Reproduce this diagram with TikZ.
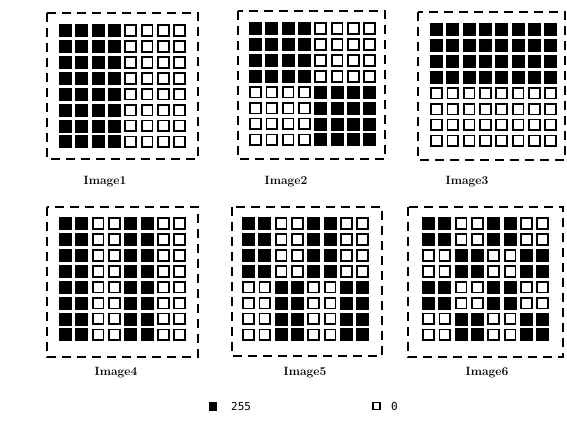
\documentclass[tikz,border=0pt]{standalone}
\usepackage{fontspec}
\newfontfamily\legendfont{DejaVu Sans Mono}
\tikzset{
  cell1/.style={draw=black,fill=black,line width=0.8pt,minimum size=12pt,inner sep=0pt},
  cell0/.style={draw=black,fill=white,line width=1.8pt,minimum size=10.8pt,inner sep=0pt},
  framebox/.style={draw=black,line width=1.6pt,dash pattern=on 9pt off 6pt},
  imglabel/.style={font=\fontsize{12}{14}\selectfont\bfseries,inner sep=0pt},
  legtext/.style={font=\legendfont\fontsize{11}{13}\selectfont,inner sep=0pt,anchor=west}
}
\newcommand\mygrid[4]{%
  \foreach \rowlist [count=\r] in {#4} {
    \foreach \v [count=\c] in \rowlist {
      \node[cell\v] (#1-\r-\c) at ({#2+6.5+(\c-1)*16.3},{#3+6.5+(\r-1)*15.9}) {};
    }
  }
}
\begin{document}
\begin{tikzpicture}[x=1pt,y=-1pt]
\useasboundingbox (0,0) rectangle (567,420);
% frames
\draw[framebox] (47,13) rectangle (198,159);
\draw[framebox] (238,11) rectangle (385,159);
\draw[framebox] (418,12) rectangle (565,160);
\draw[framebox] (47,207) rectangle (198,357);
\draw[framebox] (232,207) rectangle (382,356);
\draw[framebox] (408,207) rectangle (563,357);
% grids
\mygrid{gA}{59}{24}{{1,1,1,1,0,0,0,0},{1,1,1,1,0,0,0,0},{1,1,1,1,0,0,0,0},{1,1,1,1,0,0,0,0},{1,1,1,1,0,0,0,0},{1,1,1,1,0,0,0,0},{1,1,1,1,0,0,0,0},{1,1,1,1,0,0,0,0}}
\mygrid{gB}{249}{22}{{1,1,1,1,0,0,0,0},{1,1,1,1,0,0,0,0},{1,1,1,1,0,0,0,0},{1,1,1,1,0,0,0,0},{0,0,0,0,1,1,1,1},{0,0,0,0,1,1,1,1},{0,0,0,0,1,1,1,1},{0,0,0,0,1,1,1,1}}
\mygrid{gC}{430}{23}{{1,1,1,1,1,1,1,1},{1,1,1,1,1,1,1,1},{1,1,1,1,1,1,1,1},{1,1,1,1,1,1,1,1},{0,0,0,0,0,0,0,0},{0,0,0,0,0,0,0,0},{0,0,0,0,0,0,0,0},{0,0,0,0,0,0,0,0}}
\mygrid{gD}{59}{217}{{1,1,0,0,1,1,0,0},{1,1,0,0,1,1,0,0},{1,1,0,0,1,1,0,0},{1,1,0,0,1,1,0,0},{1,1,0,0,1,1,0,0},{1,1,0,0,1,1,0,0},{1,1,0,0,1,1,0,0},{1,1,0,0,1,1,0,0}}
\mygrid{gE}{242}{217}{{1,1,0,0,1,1,0,0},{1,1,0,0,1,1,0,0},{1,1,0,0,1,1,0,0},{1,1,0,0,1,1,0,0},{0,0,1,1,0,0,1,1},{0,0,1,1,0,0,1,1},{0,0,1,1,0,0,1,1},{0,0,1,1,0,0,1,1}}
\mygrid{gF}{422}{217}{{1,1,0,0,1,1,0,0},{1,1,0,0,1,1,0,0},{0,0,1,1,0,0,1,1},{0,0,1,1,0,0,1,1},{1,1,0,0,1,1,0,0},{1,1,0,0,1,1,0,0},{0,0,1,1,0,0,1,1},{0,0,1,1,0,0,1,1}}
% labels
\node[imglabel] (lA) at (105,182) {Image1};
\node[imglabel] (lB) at (286,182) {Image2};
\node[imglabel] (lC) at (467,182) {Image3};
\node[imglabel] (lD) at (116,373) {Image4};
\node[imglabel] (lE) at (305,373) {Image5};
\node[imglabel] (lF) at (487,373) {Image6};
% legend
\node[draw=black,fill=black,minimum size=7.5pt,inner sep=0pt] (k1) at (212.5,406) {};
\node[legtext] (t1) at (231,406) {255};
\node[draw=black,line width=1.3pt,minimum size=7pt,inner sep=0pt] (k0) at (376.5,406) {};
\node[legtext] (t0) at (391,406) {0};
\end{tikzpicture}
\end{document}
